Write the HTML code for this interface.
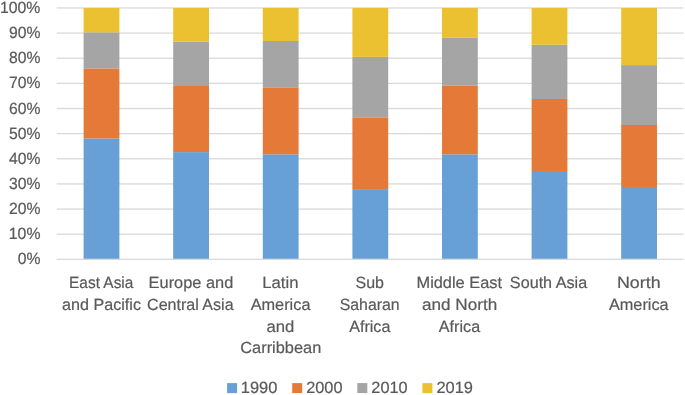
<!DOCTYPE html>
<html><head><meta charset="utf-8"><style>
html,body{margin:0;padding:0;background:#fff;width:685px;height:395px;overflow:hidden}
svg{display:block;will-change:transform}
text{font-family:"Liberation Sans",sans-serif;font-size:16.2px;fill:#595959;stroke:#595959;stroke-width:0.2px;text-rendering:geometricPrecision}
text.d{font-size:16.3px}
</style></head><body>
<svg width="685" height="395" viewBox="0 0 685 395">
<rect x="56.70" y="233.56" width="626.80" height="1.3" fill="#D9D9D9"/>
<rect x="56.70" y="208.42" width="626.80" height="1.3" fill="#D9D9D9"/>
<rect x="56.70" y="183.28" width="626.80" height="1.3" fill="#D9D9D9"/>
<rect x="56.70" y="158.14" width="626.80" height="1.3" fill="#D9D9D9"/>
<rect x="56.70" y="133.00" width="626.80" height="1.3" fill="#D9D9D9"/>
<rect x="56.70" y="107.86" width="626.80" height="1.3" fill="#D9D9D9"/>
<rect x="56.70" y="82.72" width="626.80" height="1.3" fill="#D9D9D9"/>
<rect x="56.70" y="57.58" width="626.80" height="1.3" fill="#D9D9D9"/>
<rect x="56.70" y="32.44" width="626.80" height="1.3" fill="#D9D9D9"/>
<rect x="56.70" y="7.30" width="626.80" height="1.3" fill="#D9D9D9"/>
<rect x="83.60" y="138.50" width="35.80" height="120.85" fill="#67A0D6"/>
<rect x="83.60" y="68.40" width="35.80" height="70.10" fill="#E57A38"/>
<rect x="83.60" y="32.35" width="35.80" height="36.05" fill="#A5A5A5"/>
<rect x="83.60" y="7.95" width="35.80" height="24.40" fill="#EBC131"/>
<rect x="173.20" y="152.10" width="35.80" height="107.25" fill="#67A0D6"/>
<rect x="173.20" y="86.00" width="35.80" height="66.10" fill="#E57A38"/>
<rect x="173.20" y="41.50" width="35.80" height="44.50" fill="#A5A5A5"/>
<rect x="173.20" y="7.95" width="35.80" height="33.55" fill="#EBC131"/>
<rect x="262.80" y="154.30" width="35.80" height="105.05" fill="#67A0D6"/>
<rect x="262.80" y="87.30" width="35.80" height="67.00" fill="#E57A38"/>
<rect x="262.80" y="41.00" width="35.80" height="46.30" fill="#A5A5A5"/>
<rect x="262.80" y="7.95" width="35.80" height="33.05" fill="#EBC131"/>
<rect x="352.40" y="189.10" width="35.80" height="70.25" fill="#67A0D6"/>
<rect x="352.40" y="117.30" width="35.80" height="71.80" fill="#E57A38"/>
<rect x="352.40" y="56.90" width="35.80" height="60.40" fill="#A5A5A5"/>
<rect x="352.40" y="7.95" width="35.80" height="48.95" fill="#EBC131"/>
<rect x="442.00" y="154.30" width="35.80" height="105.05" fill="#67A0D6"/>
<rect x="442.00" y="85.40" width="35.80" height="68.90" fill="#E57A38"/>
<rect x="442.00" y="37.80" width="35.80" height="47.60" fill="#A5A5A5"/>
<rect x="442.00" y="7.95" width="35.80" height="29.85" fill="#EBC131"/>
<rect x="531.60" y="171.00" width="35.80" height="88.35" fill="#67A0D6"/>
<rect x="531.60" y="99.00" width="35.80" height="72.00" fill="#E57A38"/>
<rect x="531.60" y="44.80" width="35.80" height="54.20" fill="#A5A5A5"/>
<rect x="531.60" y="7.95" width="35.80" height="36.85" fill="#EBC131"/>
<rect x="621.20" y="187.00" width="35.80" height="72.35" fill="#67A0D6"/>
<rect x="621.20" y="125.00" width="35.80" height="62.00" fill="#E57A38"/>
<rect x="621.20" y="65.10" width="35.80" height="59.90" fill="#A5A5A5"/>
<rect x="621.20" y="7.95" width="35.80" height="57.15" fill="#EBC131"/>
<rect x="56.70" y="258.70" width="626.80" height="1.3" fill="#D9D9D9"/>
<text class="d" transform="translate(17.67,264.40) scale(0.9661,1)">0%</text>
<text class="d" transform="translate(8.76,239.26) scale(0.9729,1)">10%</text>
<text class="d" transform="translate(9.05,214.12) scale(0.9638,1)">20%</text>
<text class="d" transform="translate(9.05,188.98) scale(0.9638,1)">30%</text>
<text class="d" transform="translate(9.05,163.84) scale(0.9638,1)">40%</text>
<text class="d" transform="translate(9.05,138.70) scale(0.9638,1)">50%</text>
<text class="d" transform="translate(9.05,113.56) scale(0.9638,1)">60%</text>
<text class="d" transform="translate(9.05,88.42) scale(0.9638,1)">70%</text>
<text class="d" transform="translate(9.05,63.28) scale(0.9638,1)">80%</text>
<text class="d" transform="translate(9.05,38.14) scale(0.9638,1)">90%</text>
<text class="d" transform="translate(-0.04,13.00) scale(0.9702,1)">100%</text>
<text transform="translate(69.10,287.70) scale(0.9516,1)">East Asia</text>
<text transform="translate(62.08,309.60) scale(0.9964,1)">and Pacific</text>
<text transform="translate(148.62,287.70) scale(1.0114,1)">Europe and</text>
<text transform="translate(147.09,309.60) scale(0.9910,1)">Central Asia</text>
<text transform="translate(262.19,287.70) scale(1.0335,1)">Latin</text>
<text transform="translate(250.63,309.60) scale(1.0081,1)">America</text>
<text transform="translate(266.45,331.50) scale(1.0310,1)">and</text>
<text transform="translate(240.27,353.40) scale(1.0109,1)">Carribbean</text>
<text transform="translate(355.48,287.70) scale(0.9894,1)">Sub</text>
<text transform="translate(339.69,309.60) scale(0.9798,1)">Saharan</text>
<text transform="translate(349.13,331.50) scale(0.9978,1)">Africa</text>
<text transform="translate(416.52,287.70) scale(1.0104,1)">Middle East</text>
<text transform="translate(422.03,309.60) scale(1.0572,1)">and North</text>
<text transform="translate(438.83,331.50) scale(0.9978,1)">Africa</text>
<text transform="translate(509.87,287.70) scale(0.9984,1)">South Asia</text>
<text transform="translate(616.91,287.70) scale(1.1039,1)">North</text>
<text transform="translate(608.93,309.60) scale(1.0064,1)">America</text>
<rect x="227.10" y="383.1" width="10" height="10" fill="#67A0D6"/>
<text class="d" transform="translate(240.82,393.40) scale(1.0105,1)">1990</text>
<rect x="292.20" y="383.1" width="10" height="10" fill="#E57A38"/>
<text class="d" transform="translate(306.21,393.40) scale(1.0022,1)">2000</text>
<rect x="357.30" y="383.1" width="10" height="10" fill="#A5A5A5"/>
<text class="d" transform="translate(371.31,393.40) scale(1.0022,1)">2010</text>
<rect x="422.40" y="383.1" width="10" height="10" fill="#EBC131"/>
<text class="d" transform="translate(436.41,393.40) scale(1.0092,1)">2019</text>
</svg>
</body></html>
